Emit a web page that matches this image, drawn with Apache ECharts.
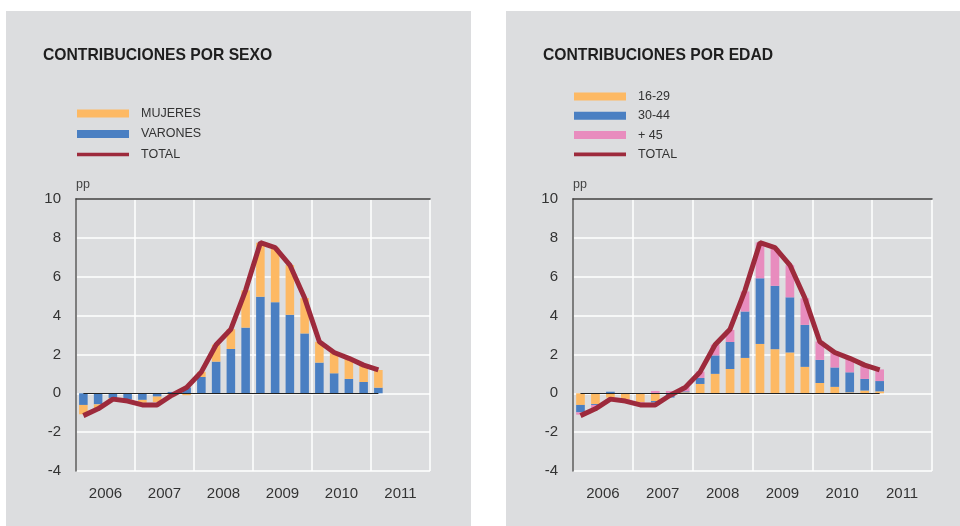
<!DOCTYPE html>
<html>
<head>
<meta charset="utf-8">
<script src="https://cdn.jsdelivr.net/npm/echarts@6/dist/echarts.min.js"></script>
<style>
html, body { margin: 0; padding: 0; background: #fff; }
#chart { width: 960px; height: 526px; }
</style>
</head>
<body>
<div id="chart"></div>
<script>
// trimestres 2006-I .. 2011-IV (eje), datos hasta 2011-I
const quarters = [];
['2006', '2007', '2008', '2009', '2010', '2011'].forEach(function (y) {
  ['I', 'II', 'III', 'IV'].forEach(function (q) { quarters.push(y + '-' + q); });
});
const years = ['2006', '2007', '2008', '2009', '2010', '2011'];
const yTicks = { min: -4, max: 10, step: 2 };

const total = [-1.15, -0.8, -0.3, -0.4, -0.6, -0.6, -0.1, 0.3, 1.1, 2.5, 3.3, 5.3, 7.75, 7.5, 6.6, 4.9, 2.65, 2.1, 1.8, 1.45, 1.2];

// por sexo
const varones = [-0.6, -0.57, -0.24, -0.33, -0.34, -0.17, 0.07, 0.3, 0.84, 1.63, 2.28, 3.38, 4.97, 4.69, 4.04, 3.08, 1.58, 1.03, 0.74, 0.58, 0.29];
const mujeres = [-0.48, -0.2, -0.06, -0.07, -0.15, -0.28, -0.15, -0.1, 0.26, 0.87, 1.02, 1.92, 2.78, 2.81, 2.56, 1.82, 1.07, 1.07, 1.06, 0.87, 0.91];

// por edad
const edad1629 = [-0.6, -0.55, -0.22, -0.3, -0.46, -0.4, 0, 0.05, 0.48, 1.0, 1.25, 1.82, 2.54, 2.27, 2.1, 1.36, 0.53, 0.33, 0.05, 0.14, 0.1];
const edad3044 = [-0.38, -0.05, 0.08, 0, 0, -0.07, -0.22, 0.05, 0.31, 0.95, 1.39, 2.39, 3.38, 3.26, 2.84, 2.16, 1.19, 1.0, 1.03, 0.6, 0.53];
const edad45 = [-0.12, -0.17, 0, -0.05, -0.1, 0.12, 0.12, 0.25, 0.33, 0.55, 0.62, 1.03, 1.84, 1.94, 1.65, 1.37, 0.95, 0.82, 0.7, 0.72, 0.6];

const C_ORANGE = '#fdb964';
const C_BLUE = '#4a7fc2';
const C_PINK = '#e88cbe';
const C_RED = '#9d2a3c';
const FONT = 'Liberation Sans, Arial, sans-serif';
// icono de la linea TOTAL: franja fina centrada en la caja de 52x8
const LINE_ICON = 'path://M0,0 L0,0 M0,2.2 L52,2.2 L52,5.8 L0,5.8 Z M52,8 L52,8';

let chart = echarts.init(document.getElementById('chart'));

function axesFor(gridIndex) {
  return {
    x: [
      {
        gridIndex: gridIndex, type: 'category', data: years, boundaryGap: true, z: 0,
        axisLine: { show: false },
        axisTick: { show: false },
        axisLabel: { color: '#333', fontSize: 15, fontFamily: FONT, margin: 15 },
        splitLine: { show: true, lineStyle: { color: '#ffffff', width: 1.5 } }
      },
      {
        gridIndex: gridIndex, type: 'category', data: quarters, boundaryGap: true, z: 5,
        axisLine: { show: true, onZero: false, lineStyle: { color: '#3a3a3a', width: 1.5 } },
        axisTick: { show: false },
        axisLabel: { show: false },
        splitLine: { show: false }
      }
    ],
    y: {
      gridIndex: gridIndex, type: 'value', min: yTicks.min, max: yTicks.max, interval: yTicks.step, z: 1,
      name: 'pp', nameLocation: 'end', nameGap: 8,
      nameTextStyle: { color: '#444', fontSize: 12.5, fontFamily: FONT, align: 'left' },
      axisLine: { show: true, onZero: false, lineStyle: { color: '#555', width: 1.5 } },
      axisTick: { show: false },
      axisLabel: { color: '#333', fontSize: 15, fontFamily: FONT, margin: 15 },
      splitLine: { show: true, lineStyle: { color: '#ffffff', width: 1.5 } }
    }
  };
}

const a0 = axesFor(0), a1 = axesFor(1);

function barSeries(name, data, color, g) {
  return {
    name: name, type: 'bar', stack: 'g' + g, data: data,
    xAxisIndex: g * 2 + 1, yAxisIndex: g,
    barWidth: '58%', itemStyle: { color: color }
  };
}

function zeroLine(g) {
  return {
    type: 'line', data: [], xAxisIndex: g * 2 + 1, yAxisIndex: g, silent: true, z: 3,
    markLine: {
      silent: true, symbol: 'none', label: { show: false },
      lineStyle: { color: '#222', width: 1, type: 'solid' },
      data: [[{ coord: [quarters[0], 0] }, { coord: [quarters[total.length - 1], 0] }]]
    }
  };
}

function totalSeries(g) {
  return {
    name: 'TOTAL', type: 'line', data: total, xAxisIndex: g * 2 + 1, yAxisIndex: g,
    symbol: 'none', z: 4,
    lineStyle: { color: C_RED, width: 5 }, itemStyle: { color: C_RED }
  };
}

const titleStyle = { fontSize: 15.7, fontWeight: 'bold', color: '#1e1e1e', fontFamily: FONT };
const legendText = { color: '#333', fontSize: 12.5, fontFamily: FONT, padding: [0, 0, 0, 7] };

let option = {
  animation: false,
  backgroundColor: '#ffffff',
  graphic: [
    { type: 'rect', shape: { x: 6, y: 11, width: 465, height: 515 }, style: { fill: '#dcdddf' }, z: -10 },
    { type: 'rect', shape: { x: 506, y: 11, width: 454, height: 515 }, style: { fill: '#dcdddf' }, z: -10 }
  ],
  title: [
    { text: 'CONTRIBUCIONES POR SEXO', left: 38, top: 43, textStyle: titleStyle },
    { text: 'CONTRIBUCIONES POR EDAD', left: 538, top: 43, textStyle: titleStyle }
  ],
  legend: [
    {
      orient: 'vertical', left: 72, top: 102, itemWidth: 52, itemHeight: 8, itemGap: 7.5,
      textStyle: legendText,
      data: [
        { name: 'MUJERES', icon: 'rect' },
        { name: 'VARONES', icon: 'rect' },
        { name: 'TOTAL', icon: LINE_ICON }
      ]
    },
    {
      orient: 'vertical', left: 569, top: 85, itemWidth: 52, itemHeight: 8, itemGap: 6.3,
      textStyle: legendText,
      data: [
        { name: '16-29', icon: 'rect' },
        { name: '30-44', icon: 'rect' },
        { name: '+ 45', icon: 'rect' },
        { name: 'TOTAL', icon: LINE_ICON }
      ]
    }
  ],
  grid: [
    { left: 76, right: 530, top: 199, bottom: 55 },
    { left: 573, right: 28, top: 199, bottom: 55 }
  ],
  xAxis: a0.x.concat(a1.x),
  yAxis: [a0.y, a1.y],
  series: [
    barSeries('VARONES', varones, C_BLUE, 0),
    barSeries('MUJERES', mujeres, C_ORANGE, 0),
    totalSeries(0),
    zeroLine(0),
    barSeries('16-29', edad1629, C_ORANGE, 1),
    barSeries('30-44', edad3044, C_BLUE, 1),
    barSeries('+ 45', edad45, C_PINK, 1),
    totalSeries(1),
    zeroLine(1)
  ]
};

chart.setOption(option);
</script>
</body>
</html>
